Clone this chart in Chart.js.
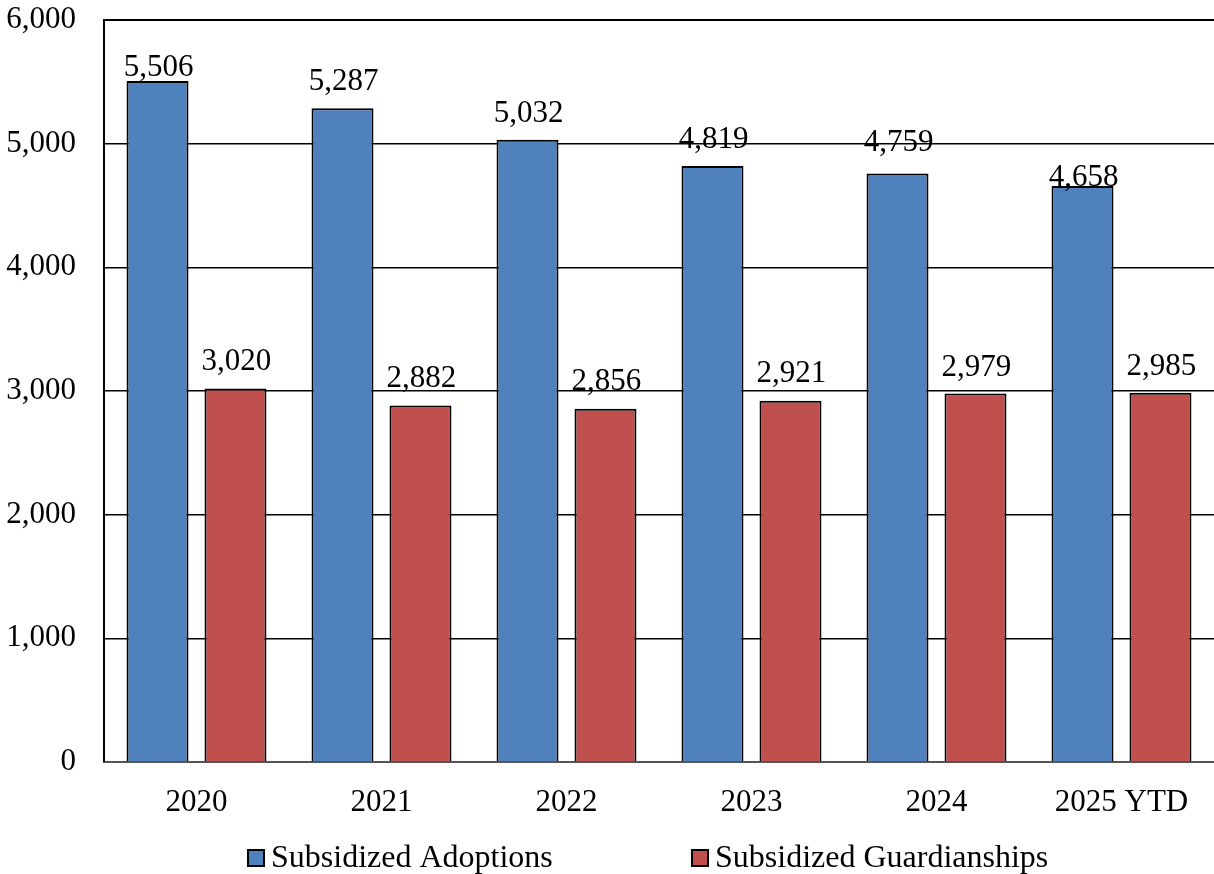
<!DOCTYPE html>
<html>
<head>
<meta charset="utf-8">
<script src="https://cdn.jsdelivr.net/npm/chart.js@4/dist/chart.umd.min.js"></script>
<style>
  html, body { margin: 0; padding: 0; background: #fff; }
  #wrap { width: 1214px; height: 874px; }
</style>
</head>
<body>
<div id="wrap"><canvas id="subsidyChart" width="1214" height="874"></canvas></div>
<script>
/* subsidized adoptions vs guardianships, yearly caseload */
var YEARS = ["2020", "2021", "2022", "2023", "2024", "2025 YTD"];
var ADOPTIONS = [5506, 5287, 5032, 4819, 4759, 4658];
var GUARDIANSHIPS = [3020, 2882, 2856, 2921, 2979, 2985];
var SERIES_NAMES = ["Subsidized Adoptions", "Subsidized Guardianships"];
var Y_TICKS = [0, 1000, 2000, 3000, 4000, 5000, 6000];

var FONT = "'Liberation Serif', 'Times New Roman', serif";
var FS = 31;
var BLUE = "#4F81BD", RED = "#C0504D";

function fmt(v) { return v.toLocaleString("en-US"); }

/* value labels above each bar; gap = px between baseline and bar top,
   a few labels were nudged by hand in the original workbook */
var barLabels = {
  id: "barLabels",
  afterDatasetsDraw: function (chart, args, opts) {
    var ctx = chart.ctx;
    ctx.save();
    ctx.font = FS + "px " + FONT;
    ctx.fillStyle = "#000";
    ctx.textAlign = "center";
    ctx.textBaseline = "alphabetic";
    chart.data.datasets.forEach(function (ds, i) {
      chart.getDatasetMeta(i).data.forEach(function (bar, j) {
        var gap = opts.gaps[i][j];
        ctx.fillText(fmt(ds.data[j]), bar.x + 1, bar.y - gap);
      });
    });
    ctx.restore();
  }
};

/* plot frame: top edge + left edge */
var frame = {
  id: "frame",
  afterDatasetsDraw: function (chart) {
    var a = chart.chartArea, ctx = chart.ctx;
    ctx.save();
    ctx.strokeStyle = "#000";
    ctx.lineWidth = 2;
    ctx.beginPath();
    ctx.moveTo(a.left, a.bottom);
    ctx.lineTo(a.left, a.top);
    ctx.lineTo(a.right, a.top);
    ctx.stroke();
    ctx.restore();
  }
};

/* legend row along the bottom */
var bottomLegend = {
  id: "bottomLegend",
  afterDraw: function (chart) {
    var ctx = chart.ctx;
    var xs = [248, 692], y = 858;
    ctx.save();
    ctx.font = "32px " + FONT;
    ctx.textBaseline = "middle";
    ctx.textAlign = "left";
    chart.data.datasets.forEach(function (ds, i) {
      ctx.fillStyle = ds.backgroundColor;
      ctx.fillRect(xs[i], y - 8, 16, 16);
      ctx.strokeStyle = "#000";
      ctx.lineWidth = 2;
      ctx.strokeRect(xs[i], y - 8, 16, 16);
      ctx.fillStyle = "#000";
      ctx.fillText(ds.label, xs[i] + 23, y + 1);
    });
    ctx.restore();
  }
};

new Chart(document.getElementById("subsidyChart"), {
  type: "bar",
  data: {
    labels: YEARS,
    datasets: [
      {
        label: SERIES_NAMES[0],
        data: ADOPTIONS,
        backgroundColor: BLUE,
        borderColor: "#000",
        borderWidth: 2,
        categoryPercentage: 0.843,
        barPercentage: 0.795
      },
      {
        label: SERIES_NAMES[1],
        data: GUARDIANSHIPS,
        backgroundColor: RED,
        borderColor: "#000",
        borderWidth: 2,
        categoryPercentage: 0.843,
        barPercentage: 0.795
      }
    ]
  },
  options: {
    responsive: false,
    animation: false,
    layout: { padding: { top: 20, right: 0, bottom: 42, left: 0 } },
    plugins: {
      legend: { display: false },
      tooltip: { enabled: false },
      barLabels: {
        gaps: [
          [5, 18, 18, 18, 22, 0],
          [19, 19, 19, 19, 18, 18]
        ]
      }
    },
    scales: {
      x: {
        grid: { display: false, drawTicks: false },
        border: { display: true, color: "#555", width: 2 },
        ticks: { color: "#000", font: { family: FONT, size: FS }, padding: 22, maxRotation: 0 },
        afterFit: function (s) { s.height = 70; }
      },
      y: {
        min: 0,
        max: 6000,
        afterBuildTicks: function (s) { s.ticks = Y_TICKS.map(function (v) { return { value: v }; }); },
        // tick marks kept invisible; their length sets the label gap
        grid: { color: "#000", lineWidth: 1.5, drawTicks: true, tickLength: 28, tickColor: "rgba(0,0,0,0)" },
        border: { display: false },
        ticks: {
          color: "#000",
          font: { family: FONT, size: FS },
          padding: 0,
          callback: function (v) { return fmt(v); }
        },
        afterFit: function (s) { s.width = 104; }
      }
    }
  },
  plugins: [barLabels, frame, bottomLegend]
});
</script>
</body>
</html>
